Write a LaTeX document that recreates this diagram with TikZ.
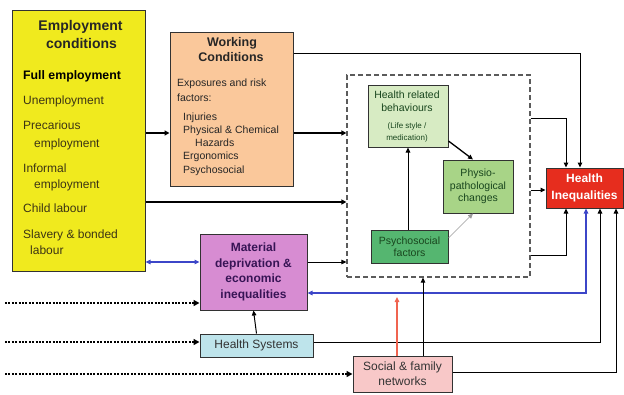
\documentclass[tikz,border=0pt]{standalone}
\usepackage{fontspec}
\setmainfont{Liberation Sans}
\usetikzlibrary{arrows.meta}
\definecolor{empY}{RGB}{240,234,30}
\definecolor{wcO}{RGB}{250,200,155}
\definecolor{hrbG}{RGB}{215,235,195}
\definecolor{phyG}{RGB}{168,212,135}
\definecolor{psyG}{RGB}{85,182,112}
\definecolor{matP}{RGB}{215,140,210}
\definecolor{hsC}{RGB}{190,228,235}
\definecolor{sfP}{RGB}{248,200,200}
\definecolor{hiR}{RGB}{230,45,30}
\definecolor{blueA}{RGB}{60,70,200}
\definecolor{redA}{RGB}{240,100,80}
\definecolor{olv}{RGB}{60,52,20}
\definecolor{dgreen}{RGB}{25,70,30}
\definecolor{dpurp}{RGB}{55,20,85}
\definecolor{bord}{RGB}{50,50,50}
\begin{document}
\begin{tikzpicture}[x=1pt,y=-1pt,
  box/.style={draw=bord,line width=1pt,inner sep=0pt,align=center},
  lbl/.style={anchor=west,inner sep=0pt,text height=0.72em,text depth=0.2em},
  clbl/.style={inner sep=0pt,text height=0.72em,text depth=0.2em},
  arr/.style={line width=1pt,-{Triangle[length=5pt,width=4.5pt]}},
  thk/.style={line width=1.8pt,-{Triangle[length=5pt,width=5pt]}},
  ln/.style={line width=1pt},
  dots/.style={line width=2.4pt,dash pattern=on 2pt off 1.4pt,-{Triangle[length=6pt,width=6pt]}},
  bluearr/.style={blueA,line width=1.5pt,{Triangle[length=5pt,width=4.5pt]}-{Triangle[length=5pt,width=4.5pt]}}
]
\useasboundingbox (0,0) rectangle (624,394);
% boxes
\node[box,fill=empY,minimum width=133pt,minimum height=261pt] (emp) at (78.5,140.5) {};
\node[box,fill=wcO,minimum width=123pt,minimum height=154pt] (wc) at (231.5,109) {};
\node[draw=bord!80,line width=1.2pt,dash pattern=on 5pt off 3pt,minimum width=183pt,minimum height=202pt,inner sep=0pt] (dbox) at (438.5,176) {};
\node[box,fill=hrbG,minimum width=80pt,minimum height=62pt] (hrb) at (408,116) {};
\node[box,fill=phyG,minimum width=70pt,minimum height=53pt,text=dgreen,font=\fontsize{10.5}{12.5}\selectfont] (phy) at (478,186.5) {Physio-\\pathological\\changes};
\node[box,fill=psyG,minimum width=77pt,minimum height=33pt,text=dgreen,font=\fontsize{10.5}{12}\selectfont] (psy) at (409.5,246.5) {Psychosocial\\factors};
\node[box,fill=matP,minimum width=107pt,minimum height=76pt,text=dpurp,font=\bfseries\fontsize{12}{15.5}\selectfont] (mat) at (253.5,272) {Material\\deprivation \&\\economic\\inequalities};
\node[box,fill=hsC,minimum width=113pt,minimum height=23pt,text=black!80,font=\fontsize{12}{14}\selectfont] (hs) at (256.5,345.5) {Health Systems};
\node[box,fill=sfP,minimum width=99pt,minimum height=36pt,text=black!80,font=\fontsize{12}{15}\selectfont] (sf) at (402.5,374) {Social \& family\\networks};
\node[box,fill=hiR,minimum width=77pt,minimum height=40pt,text=white,font=\bfseries\fontsize{12}{16.5}\selectfont] (hi) at (584.5,188) {Health\\Inequalities};
% employment texts
\begin{scope}[font=\fontsize{12}{13}\selectfont,text=olv]
\node[clbl,font=\bfseries\fontsize{14}{16}\selectfont,text=black!85] (et1) at (80.5,28) {Employment};
\node[clbl,font=\bfseries\fontsize{14}{16}\selectfont,text=black!85] (et2) at (81.5,46) {conditions};
\node[lbl,font=\bfseries\fontsize{12.3}{14}\selectfont,text=black] (e1) at (23,77) {Full employment};
\node[lbl] (e2) at (23,102) {Unemployment};
\node[lbl] (e3) at (23,127) {Precarious};
\node[lbl] (e3b) at (34,145) {employment};
\node[lbl] (e4) at (23,170) {Informal};
\node[lbl] (e4b) at (34,186) {employment};
\node[lbl] (e5) at (23,210) {Child labour};
\node[lbl] (e6) at (23,236) {Slavery \& bonded};
\node[lbl] (e6b) at (30,252) {labour};
\end{scope}
% working conditions texts
\begin{scope}[font=\fontsize{10.5}{12}\selectfont,text=black!85]
\node[clbl,font=\bfseries\fontsize{12.5}{14}\selectfont] (wt1) at (232,44) {Working};
\node[clbl,font=\bfseries\fontsize{12.5}{14}\selectfont] (wt2) at (231,59) {Conditions};
\node[lbl] (w1) at (177,84) {Exposures and risk};
\node[lbl] (w2) at (177,99) {factors:};
\node[lbl] (w3) at (183,118) {Injuries};
\node[lbl] (w4) at (183,131) {Physical \& Chemical};
\node[lbl] (w5) at (195,144) {Hazards};
\node[lbl] (w6) at (183,157) {Ergonomics};
\node[lbl] (w7) at (183,171) {Psychosocial};
\end{scope}
% health related behaviours texts
\begin{scope}[text=dgreen]
\node[clbl,font=\fontsize{10.5}{11}\selectfont] (h1) at (407,96) {Health related};
\node[clbl,font=\fontsize{10.5}{11}\selectfont] (h2) at (407,109) {behaviours};
\node[clbl,font=\fontsize{8}{9}\selectfont] (h3) at (407,126) {(Life style /};
\node[clbl,font=\fontsize{8}{9}\selectfont] (h4) at (407,138) {medication)};
\end{scope}
% free ends
\coordinate (d1) at (5,303);
\coordinate (d2) at (5,342);
\coordinate (d3) at (5,374);
\coordinate (rb) at (397,297);
% connectors
\draw[thk] (emp.east |- 0,133) -- (wc.west |- 0,133);
\draw[thk] (wc.east |- 0,133) -- (dbox.west |- 0,133);
\draw[thk] (emp.east |- 0,202) -- (dbox.west |- 0,202);
\draw[arr] (wc.east |- 0,53) -| (hi.north -| 580,0);
\draw[bluearr,line width=1.2pt] (emp.east |- 0,262) -- (mat.west |- 0,262);
\draw[arr] (mat.east |- 0,262) -- (dbox.west |- 0,262);
\draw[arr] (dbox.east |- 0,118) -| (hi.north -| 566,0);
\draw[arr] (dbox.east |- 0,190) -- (hi.west |- 0,190);
\draw[arr] (dbox.east |- 0,255) -| (hi.south -| 566,0);
\draw[arr] (hs.east |- 0,342) -| (hi.south -| 600,0);
\draw[arr] (sf.east |- 0,372) -| (hi.south -| 616,0);
\draw[bluearr] (mat.east |- 0,293) -| (hi.south -| 586,0);
\draw[arr] (hs.north) -- (mat.south);
\draw[arr,redA,line width=1.5pt] (sf.north -| rb) -- (rb);
\draw[arr] (sf.north -| 423,0) -- (dbox.south -| 423,0);
\draw[arr] (psy.north -| 408,0) -- (hrb.south -| 408,0);
\draw[arr,line width=1.3pt] (hrb.east |- 0,141) -- (phy.north -| 473,0);
\draw[arr,black!40,line width=0.6pt] (psy.east |- 0,238) -- (phy.south -| 473,0);
\draw[dots] (d1) -- (mat.west |- d1);
\draw[dots] (d2) -- (hs.west |- d2);
\draw[dots] (d3) -- (sf.west |- d3);
\end{tikzpicture}
\end{document}
